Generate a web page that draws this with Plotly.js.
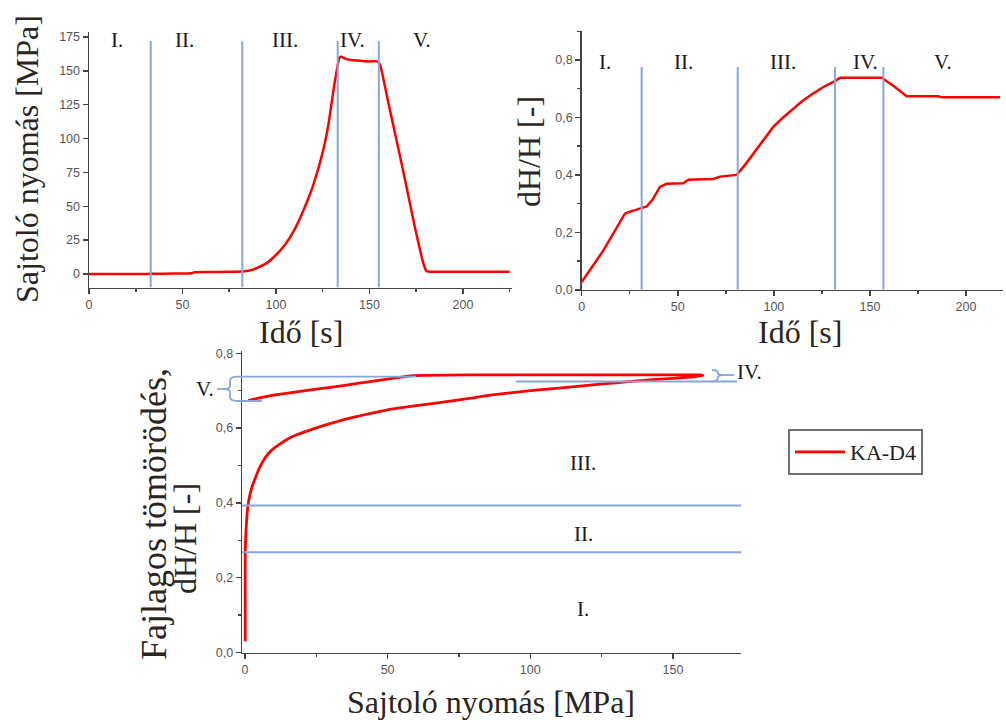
<!DOCTYPE html>
<html><head><meta charset="utf-8">
<script src="https://cdn.plot.ly/plotly-3.0.1.min.js"></script>
<style>html,body{margin:0;padding:0;background:#fff}#chart{width:1006px;height:720px}</style>
</head><body><div id="chart"></div>
<script>
// ---- data ----
const timeP = [0, 10, 20, 30, 40, 50, 55, 56, 65, 75, 82, 86, 90, 95, 100, 105, 110, 115, 120, 125, 128, 131, 133, 134, 135, 137, 140, 145, 150, 154, 155.5, 157, 160, 163, 166, 170, 173, 175, 177, 179, 180.5, 182, 190, 200, 210, 225];
const pressure = [0, 0, 0, 0, 0.2, 0.4, 0.5, 1.2, 1.4, 1.6, 1.8, 2.5, 4.5, 8, 14, 22, 33, 48, 66, 90, 110, 138, 154, 160, 160.5, 159, 158, 157.5, 157, 157, 155, 147, 127, 108, 89, 63, 43, 30, 18, 7, 2.2, 1.7, 1.7, 1.7, 1.7, 1.7];

const timeE = [0, 11.3, 22.5, 25, 28.6, 31, 33.8, 37, 40.7, 44.2, 50, 52.9, 55.5, 62, 68.5, 72, 76, 80.7, 85, 89.3, 95, 99.7, 105, 110.2, 115, 120.6, 126, 131, 134.5, 145, 156.2, 163, 169.1, 178, 185.6, 187.4, 200, 217.7];
const strainT = [0.027, 0.137, 0.265, 0.272, 0.279, 0.285, 0.29, 0.315, 0.358, 0.369, 0.37, 0.371, 0.383, 0.385, 0.386, 0.394, 0.397, 0.40, 0.435, 0.474, 0.524, 0.567, 0.601, 0.631, 0.658, 0.684, 0.707, 0.724, 0.738, 0.738, 0.738, 0.706, 0.674, 0.674, 0.674, 0.670, 0.670, 0.670];

const pressureC = [0.1, 0.1, 0.1, 0.4, 1.0, 1.5, 2.0, 2.8, 3.7, 5.0, 6.4, 8, 10, 12.3, 15, 18.1, 24, 29.8, 35, 41.5, 50.8, 60, 70, 80, 86, 100, 110, 121, 130, 138.5, 150, 157, 160.5, 159.5, 157, 130, 100, 80, 59, 50, 40, 30, 20, 10, 4, 1.2];
const strainC = [0.03, 0.15, 0.27, 0.33, 0.39, 0.413, 0.43, 0.45, 0.468, 0.492, 0.512, 0.53, 0.545, 0.558, 0.571, 0.582, 0.598, 0.612, 0.623, 0.635, 0.650, 0.660, 0.670, 0.681, 0.688, 0.700, 0.707, 0.715, 0.721, 0.727, 0.733, 0.737, 0.740, 0.742, 0.742, 0.742, 0.742, 0.742, 0.740, 0.731, 0.720, 0.709, 0.699, 0.688, 0.679, 0.674];

const phaseLabels = ['I.', 'II.', 'III.', 'IV.', 'V.'];
const phaseLabelTimesP = [15, 51, 105, 141, 178];
const phaseLabelTimesE = [12, 53, 105, 147.5, 188];
const phaseBoundsP = [33, 82, 133, 155];
const phaseBoundsE = [31.2, 81.2, 131.8, 157];
const strainBounds = [0.268, 0.393];
const lowerPhaseLabels = ['I.', 'II.', 'III.'];
const lowerPhaseLabelY = [0.116, 0.318, 0.507];
const seriesName = 'KA-D4';

// ---- layout helpers ----
const W = 1006, H = 720;
const px = x => x / W;
const py = y => 1 - y / H;
const P = (x, y) => px(x).toFixed(5) + ',' + py(y).toFixed(5);

const RED = '#ff0000', BLUE = '#86a6dc', AX = '#444444';
const tickFont = {family: 'Liberation Sans, Arial, sans-serif', size: 12.5, color: '#555555'};
const titleFont = {family: 'Liberation Serif, serif', size: 32, color: '#2b2520'};
const romanFont = {family: 'Liberation Serif, serif', size: 21, color: '#1a1a1a'};

function axis(domain, range, dtick, minorDtick, extra) {
  return Object.assign({
    domain: domain, range: range, tick0: 0, dtick: dtick,
    showline: true, linecolor: AX, linewidth: 1.5, mirror: false,
    ticks: 'outside', ticklen: 5, tickwidth: 1.5, tickcolor: AX,
    showgrid: false, zeroline: false, tickfont: tickFont,
    minor: minorDtick ? {dtick: minorDtick, ticks: 'outside', ticklen: 3, tickwidth: 1.5, tickcolor: AX, showgrid: false} : undefined
  }, extra || {});
}

const traces = [
  {x: timeP, y: pressure, xaxis: 'x', yaxis: 'y', mode: 'lines', line: {color: RED, width: 2.5, shape: 'spline', smoothing: 0.5}, showlegend: false, name: seriesName},
  {x: timeE, y: strainT, xaxis: 'x2', yaxis: 'y2', mode: 'lines', line: {color: RED, width: 2.5}, showlegend: false, name: seriesName},
  {x: pressureC, y: strainC, xaxis: 'x3', yaxis: 'y3', mode: 'lines', line: {color: RED, width: 2.8, shape: 'spline', smoothing: 0.4}, showlegend: true, name: seriesName}
];

const shapes = [];
phaseBoundsP.forEach(b => shapes.push({type: 'line', xref: 'x', yref: 'y', x0: b, x1: b, y0: -10, y1: 172, line: {color: BLUE, width: 2}}));
phaseBoundsE.forEach(b => shapes.push({type: 'line', xref: 'x2', yref: 'y2', x0: b, x1: b, y0: 0, y1: 0.776, line: {color: BLUE, width: 2}}));
strainBounds.forEach(b => shapes.push({type: 'line', xref: 'x3', yref: 'y3', x0: -1, x1: 174, y0: b, y1: b, line: {color: BLUE, width: 2}}));
// V. bracket
shapes.push({type: 'path', xref: 'paper', yref: 'paper', line: {color: BLUE, width: 1.8},
  path: 'M' + P(416, 376.7) + ' L' + P(238, 376.7) + ' Q' + P(230, 376.7) + ' ' + P(230, 381) + ' L' + P(230, 386) +
        ' Q' + P(230, 389) + ' ' + P(224, 389) + ' Q' + P(230, 389) + ' ' + P(230, 392) + ' L' + P(230, 397) +
        ' Q' + P(230, 401) + ' ' + P(238, 401) + ' L' + P(262, 401)});
shapes.push({type: 'line', xref: 'paper', yref: 'paper', x0: px(217), x1: px(224), y0: py(389), y1: py(389), line: {color: BLUE, width: 1.8}});
// IV. bracket
shapes.push({type: 'line', xref: 'paper', yref: 'paper', x0: px(516), x1: px(737), y0: py(381.5), y1: py(381.5), line: {color: BLUE, width: 1.8}});
shapes.push({type: 'path', xref: 'paper', yref: 'paper', line: {color: BLUE, width: 1.8},
  path: 'M' + P(712, 370) + ' Q' + P(718, 370) + ' ' + P(718, 373) + ' Q' + P(718, 375) + ' ' + P(722, 375) +
        ' Q' + P(718, 375) + ' ' + P(718, 377.5) + ' Q' + P(718, 381.5) + ' ' + P(712, 381.5)});
shapes.push({type: 'line', xref: 'paper', yref: 'paper', x0: px(722), x1: px(734), y0: py(375), y1: py(375), line: {color: BLUE, width: 1.8}});

const ann = [];
phaseLabels.forEach((t, i) => ann.push({xref: 'x', yref: 'y', x: phaseLabelTimesP[i], y: 172.8, text: t, showarrow: false, font: romanFont, xanchor: 'center', yanchor: 'middle'}));
phaseLabels.forEach((t, i) => ann.push({xref: 'x2', yref: 'y2', x: phaseLabelTimesE[i], y: 0.794, text: t, showarrow: false, font: romanFont, xanchor: 'center', yanchor: 'middle'}));
lowerPhaseLabels.forEach((t, i) => ann.push({xref: 'x3', yref: 'y3', x: 118.5, y: lowerPhaseLabelY[i], text: t, showarrow: false, font: romanFont, xanchor: 'center', yanchor: 'middle'}));
ann.push({xref: 'paper', yref: 'paper', x: px(205), y: py(389), text: 'V.', showarrow: false, font: romanFont, xanchor: 'center', yanchor: 'middle'});
ann.push({xref: 'paper', yref: 'paper', x: px(749), y: py(372), text: 'IV.', showarrow: false, font: romanFont, xanchor: 'center', yanchor: 'middle'});
// axis titles
function title(text, x, y, rot, size) {
  ann.push({xref: 'paper', yref: 'paper', x: px(x), y: py(y), text: text, showarrow: false, textangle: rot,
    font: Object.assign({}, titleFont, size ? {size: size} : {}), xanchor: 'center', yanchor: 'middle'});
}
title('Sajtoló nyomás [MPa]', 27, 159, -90);
title('Idő [s]', 301, 332, 0);
title('dH/H [-]', 529, 152, -90);
title('Idő [s]', 800, 332, 0);
title('Sajtoló nyomás [MPa]', 491, 702, 0);
title('Fajlagos tömörödés,', 154, 514, -90, 36);
title('dH/H [-]', 185, 539, -90);

const layout = {
  width: W, height: H,
  margin: {l: 0, r: 0, t: 0, b: 0, pad: 0},
  paper_bgcolor: '#ffffff', plot_bgcolor: 'rgba(0,0,0,0)',
  separators: ', ',
  showlegend: true,
  legend: {x: px(788), y: py(429), xanchor: 'left', yanchor: 'top', bgcolor: '#ffffff', bordercolor: '#707070', borderwidth: 2,
    font: {family: 'Liberation Serif, serif', size: 22, color: '#222222'}, itemwidth: 50, tracegroupgap: 0},
  xaxis: axis([px(89), px(511.6)], [0, 226], 50, 25, {anchor: 'y'}),
  yaxis: axis([py(287.5), py(31.6)], [-10, 179], 25, null, {anchor: 'x'}),
  xaxis2: axis([px(581.7), px(1002.5)], [0, 219], 50, 25, {anchor: 'y2'}),
  yaxis2: axis([py(289.8), py(31.3)], [0, 0.9], 0.2, 0.1, {anchor: 'x2', tickformat: '.1f'}),
  xaxis3: axis([px(242.1), px(741.4)], [-1, 174], 50, 25, {anchor: 'y3'}),
  yaxis3: axis([py(652.5), py(351.4)], [0, 0.805], 0.2, 0.1, {anchor: 'x3', tickformat: '.1f'}),
  shapes: shapes,
  annotations: ann
};

Plotly.newPlot('chart', traces, layout, {displayModeBar: false, staticPlot: true});
</script>
</body></html>
